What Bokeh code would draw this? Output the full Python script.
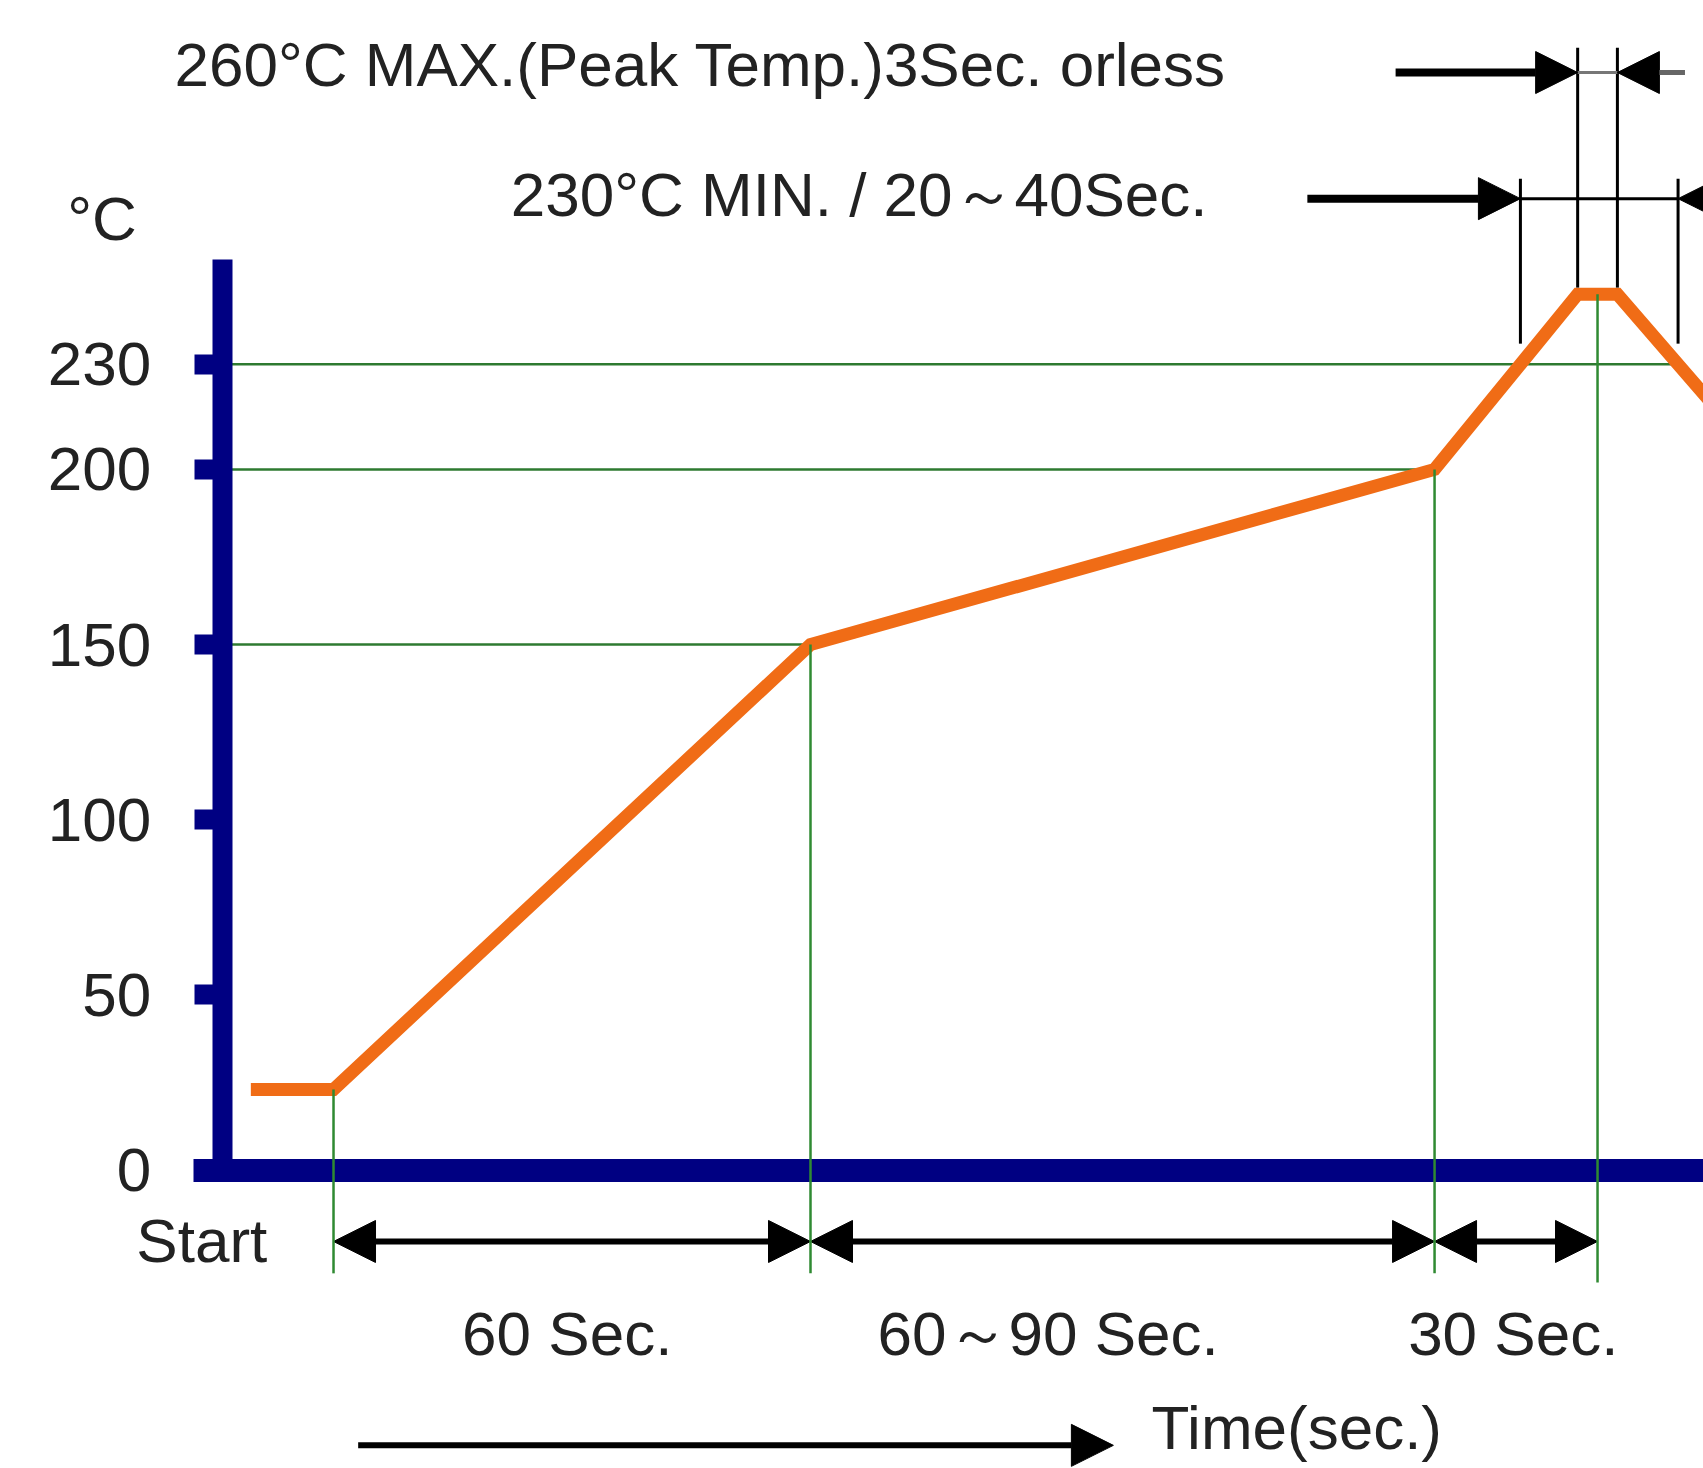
import numpy as np
from bokeh.plotting import figure
from bokeh.models import Range1d, FixedTicker, Arrow, NormalHead, ColumnDataSource
from bokeh.core.properties import value
from bokeh.embed import file_html
from bokeh.resources import INLINE

# ---------------- data ----------------
time_s = [-10.4, 0.0, 60.0, 138.5, 156.5, 161.5, 176.0]      # reflow profile, time
temp_c = [23, 23, 150, 200, 250, 250, 212]                     # reflow profile, degC
y_ticks = [0, 50, 100, 150, 200, 230]
level_c = [150, 200, 230]                                      # green reference levels
phase_t = [0.0, 60.0, 138.5, 159.0]                            # phase boundaries (s)
phase_labels = ["60 Sec.", "60～90 Sec.", "30 Sec."]
peak_edges_t = [156.5, 161.5]                                  # 3 s peak window
top_labels = ["260°C MAX.(Peak Temp.)3Sec. orless", "230°C MIN. / 20～40Sec."]

# ---------------- layout constants ----------------
X0, X1 = -41.89, 172.33
Y0, Y1 = -85.21, 333.86
YAXIS_AT = -14.0
FONT = value("Liberation Sans")
FS = "62px"
TXT = "#222222"
NAVY = "#000082"
ORANGE = "#F06C16"
GREEN = "#2E7A30"

def crossings(level):
    out = []
    for i in range(len(time_s) - 1):
        t0, t1 = time_s[i], time_s[i + 1]
        a, b = temp_c[i] - level, temp_c[i + 1] - level
        if a == b:
            continue
        if a * b <= 0:
            out.append(t0 + (t1 - t0) * a / (a - b))
    return out

p = figure(width=1703, height=1468, x_range=Range1d(X0, X1), y_range=Range1d(Y0, Y1),
           output_backend="svg", toolbar_location=None, title=None, min_border=0)
p.min_border_left = p.min_border_right = p.min_border_top = p.min_border_bottom = 0
p.outline_line_color = None
p.grid.visible = False
p.background_fill_color = "white"
p.border_fill_color = "white"

# y axis
ya = p.yaxis[0]
ya.fixed_location = YAXIS_AT
ya.ticker = FixedTicker(ticks=y_ticks)
ya.bounds = (0, 260)
ya.axis_line_color = NAVY
ya.axis_line_width = 20
ya.major_tick_line_color = NAVY
ya.major_tick_line_width = 20
ya.major_tick_out = 28
ya.major_tick_in = 0
ya.minor_tick_line_color = None
ya.major_label_standoff = 43
ya.major_label_text_font = "Liberation Sans"
ya.major_label_text_font_size = FS
ya.major_label_text_color = TXT

# x axis
xa = p.xaxis[0]
xa.fixed_location = 0
xa.ticker = FixedTicker(ticks=[])
xa.bounds = (-17.6, 200)
xa.axis_line_color = NAVY
xa.axis_line_width = 23
xa.major_tick_line_color = None
xa.minor_tick_line_color = None
xa.major_label_text_color = None

# green reference levels (horizontal)
lvl_end = [max(crossings(L)) for L in level_c]
p.segment(x0=[YAXIS_AT] * len(level_c), y0=level_c, x1=lvl_end, y1=level_c,
          line_color=GREEN, line_width=2.5)

# green phase verticals
v_top = [float(np.interp(t, time_s, temp_c)) for t in phase_t]
v_bot = [-29.5, -29.5, -29.5, -32.1]
p.segment(x0=phase_t, y0=v_top, x1=phase_t, y1=v_bot, line_color="#2F8A32",
          line_width=2.5, level="overlay")

# reflow profile
p.line(time_s, temp_c, line_color=ORANGE, line_width=13, line_join="miter")

# black dimension lines around the peak
c_up, c_dn = crossings(230)[0], crossings(230)[-1]
p.segment(x0=[c_up, c_dn], y0=[235.9, 235.9], x1=[c_up, c_dn], y1=[283.0, 283.0],
          line_color="black", line_width=3)
p.segment(x0=peak_edges_t, y0=[251.9, 251.9], x1=peak_edges_t, y1=[320.4, 320.4],
          line_color="black", line_width=3)
p.segment(x0=[c_up], y0=[277.3], x1=[c_dn], y1=[277.3], line_color="black", line_width=3)
p.segment(x0=[peak_edges_t[0]], y0=[313.3], x1=[peak_edges_t[1]], y1=[313.3],
          line_color="#777777", line_width=3)

def head():
    return NormalHead(size=42, fill_color="black", line_color="black", line_width=1)

# top arrows
p.add_layout(Arrow(end=head(), x_start=133.6, y_start=313.3, x_end=peak_edges_t[0], y_end=313.3,
                   line_color="black", line_width=8))
p.add_layout(Arrow(end=head(), x_start=170.0, y_start=313.3, x_end=peak_edges_t[1], y_end=313.3,
                   line_color="#666666", line_width=5))
p.add_layout(Arrow(end=head(), x_start=122.5, y_start=277.3, x_end=c_up, y_end=277.3,
                   line_color="black", line_width=8))
p.add_layout(Arrow(end=head(), x_start=185.0, y_start=277.3, x_end=c_dn, y_end=277.3,
                   line_color="black", line_width=8))

# bottom phase arrows
src = ColumnDataSource(dict(x0=phase_t[:-1], x1=phase_t[1:], y=[-20.4] * 3))
p.add_layout(Arrow(start=head(), end=head(), source=src, x_start="x0", y_start="y",
                   x_end="x1", y_end="y", line_color="black", line_width=6))

# time arrow
p.add_layout(Arrow(end=head(), x_start=3.1, y_start=-78.6, x_end=98.1, y_end=-78.6,
                   line_color="black", line_width=6))

# texts
p.text(x=[-20.0, 22.3], y=[315.5, 278.5], text=top_labels, text_font=FONT, text_font_size=FS,
       text_color=TXT, text_align="left", text_baseline="alphabetic")
p.text(x=[-33.5], y=[271.6], text=["°C"], text_font=FONT, text_font_size=FS,
       text_color=TXT, text_align="left", text_baseline="alphabetic")
p.text(x=[-24.8], y=[-20.1], text=["Start"], text_font=FONT, text_font_size=FS,
       text_color=TXT, text_align="left", text_baseline="alphabetic")
p.text(x=[29.4, 89.9, 148.4], y=[-46.7] * 3, text=phase_labels, text_font=FONT,
       text_font_size=FS, text_color=TXT, text_align="center", text_baseline="alphabetic")
p.text(x=[102.9], y=[-73.6], text=["Time(sec.)"], text_font=FONT, text_font_size=FS,
       text_color=TXT, text_align="left", text_baseline="alphabetic")

open("out.html", "w").write(file_html(p, INLINE))
